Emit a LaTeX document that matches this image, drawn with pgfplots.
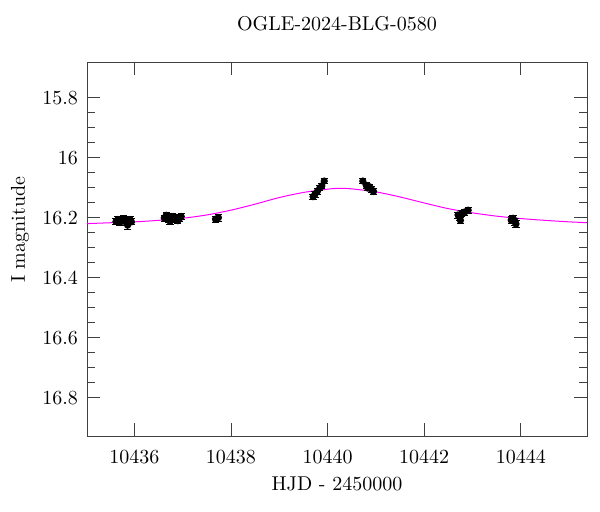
\documentclass[border=0pt]{standalone}
\usepackage{pgfplots}
\pgfplotsset{compat=1.18}
\usepackage{pgfplotstable}
\definecolor{modelmag}{RGB}{255,0,255}

\pgfplotstableread{
x        y       e
10435.62 16.213 0.010
10435.66 16.206 0.010
10435.70 16.216 0.011
10435.74 16.209 0.010
10435.78 16.204 0.010
10435.82 16.214 0.011
10435.86 16.225 0.013
10435.88 16.210 0.010
10435.91 16.206 0.011
10435.94 16.214 0.010
10436.62 16.201 0.010
10436.66 16.192 0.011
10436.70 16.206 0.010
10436.74 16.212 0.011
10436.78 16.196 0.010
10436.82 16.205 0.010
10436.86 16.199 0.011
10436.90 16.210 0.010
10436.94 16.201 0.011
10436.97 16.196 0.010
10437.68 16.205 0.010
10437.74 16.200 0.011
10439.70 16.130 0.009
10439.74 16.122 0.009
10439.79 16.112 0.009
10439.84 16.101 0.009
10439.88 16.094 0.009
10439.93 16.078 0.008
10440.73 16.078 0.008
10440.80 16.092 0.009
10440.83 16.101 0.009
10440.87 16.097 0.009
10440.91 16.106 0.009
10440.95 16.113 0.010
10442.70 16.191 0.010
10442.73 16.198 0.010
10442.75 16.209 0.011
10442.78 16.186 0.010
10442.84 16.181 0.010
10442.91 16.175 0.010
10443.80 16.208 0.011
10443.84 16.202 0.010
10443.88 16.214 0.011
10443.90 16.221 0.012
}\datatable

\pgfplotstableread{
x        y
10435.0  16.220
10435.5  16.217
10436.0  16.214
10436.5  16.209
10437.0  16.202
10437.5  16.191
10438.0  16.175
10438.5  16.155
10439.0  16.133
10439.5  16.116
10440.0  16.105
10440.25 16.102
10440.5  16.104
10441.0  16.114
10441.5  16.131
10442.0  16.151
10442.5  16.170
10443.0  16.184
10443.5  16.195
10444.0  16.203
10444.5  16.209
10445.0  16.214
10445.4  16.217
}\modeltable

\begin{document}
\begin{tikzpicture}
\path[use as bounding box] (-43.5pt,-38pt) rectangle (256.5pt,218pt);
\begin{axis}[
    at={(0,0)}, anchor=south west,
    scale only axis,
    width=250pt, height=187pt,
    xmin=10435.02, xmax=10445.37,
    ymin=15.681, ymax=16.928,
    y dir=reverse,
    xtick={10436,10438,...,10444},
    ytick={15.8,16,16.2,16.4,16.6,16.8},
    minor x tick num=3,
    minor y tick num=3,
    tick align=inside,
    xtick pos=both, ytick pos=both,
    major tick length=6.5pt,
    minor tick length=4pt,
    axis line style={black!75},
    every tick/.style={black!75},
    scaled x ticks=false,
    xticklabel style={/pgf/number format/.cd, fixed, 1000 sep={}, /tikz/.cd, yshift=-4pt},
    yticklabel style={/pgf/number format/.cd, fixed, /tikz/.cd, xshift=-1pt},
    xlabel={HJD - 2450000},
    ylabel={I magnitude},
    xlabel style={at={(axis description cs:0.5,0)}, anchor=north, yshift=-17pt},
    ylabel style={at={(axis description cs:-0.134,0.551)}, anchor=center},
    title={OGLE-2024-BLG-0580},
    title style={yshift=6pt},
    clip=true,
]
\addplot[modelmag, line width=0.5pt, smooth, no marks] table[x=x, y=y] {\modeltable};
\addplot[only marks, mark=*, mark size=1.6pt, black,
    error bars/.cd, y dir=both, y explicit,
    error bar style={black, line width=0.5pt},
    error mark options={black, rotate=90, mark size=1.8pt}]
    table[x=x, y=y, y error=e] {\datatable};
\end{axis}
\end{tikzpicture}
\end{document}
